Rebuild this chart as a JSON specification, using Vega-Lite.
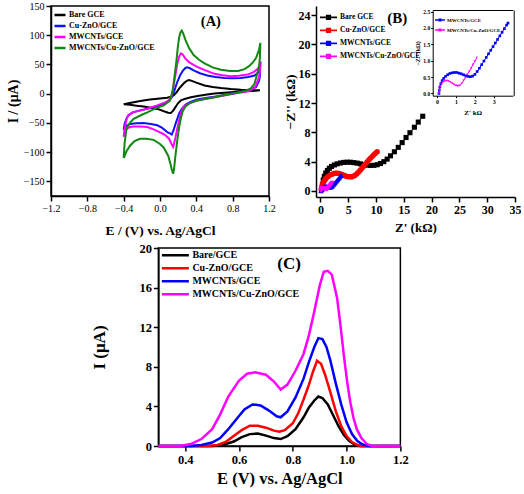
{
  "$schema": "https://vega.github.io/schema/vega-lite/v6.json",
  "padding": {"left": 5, "top": 0, "right": 0, "bottom": 0},
  "config": {
    "font": "Liberation Serif",
    "view": {"stroke": "black", "strokeWidth": 1.5},
    "axis": {"grid": false, "tickCount": 20, "domainColor": "black", "domainWidth": 1.5, "tickColor": "black", "tickWidth": 1.5, "labelColor": "black", "titleColor": "black", "labelFlush": false, "labelOverlap": false, "titleFontWeight": "bold", "labelFont": "Liberation Serif", "titleFont": "Liberation Serif"},
    "legend": {"labelFont": "Liberation Serif", "labelColor": "black", "padding": 0, "rowPadding": 0, "labelFontWeight": "bold"}
  },
  "datasets": {
    "cv": [
      {"s":"Bare GCE","E":-0.4,"I":-18},{"s":"Bare GCE","E":-0.29,"I":-14.5},{"s":"Bare GCE","E":-0.2,"I":-12},{"s":"Bare GCE","E":-0.11,"I":-10},{"s":"Bare GCE","E":0.0,"I":-8.3},{"s":"Bare GCE","E":0.08,"I":-7},{"s":"Bare GCE","E":0.12,"I":-5},{"s":"Bare GCE","E":0.15,"I":-3},{"s":"Bare GCE","E":0.18,"I":2},{"s":"Bare GCE","E":0.21,"I":8.5},{"s":"Bare GCE","E":0.24,"I":14},{"s":"Bare GCE","E":0.27,"I":19},{"s":"Bare GCE","E":0.3,"I":22.5},{"s":"Bare GCE","E":0.32,"I":23.5},{"s":"Bare GCE","E":0.35,"I":22},{"s":"Bare GCE","E":0.4,"I":19},{"s":"Bare GCE","E":0.49,"I":14},{"s":"Bare GCE","E":0.58,"I":11.5},{"s":"Bare GCE","E":0.67,"I":9.6},{"s":"Bare GCE","E":0.78,"I":8},{"s":"Bare GCE","E":0.89,"I":6.9},{"s":"Bare GCE","E":1.0,"I":6.2},{"s":"Bare GCE","E":1.1,"I":5.8},
      {"s":"Bare GCE","E":1.05,"I":5.2},{"s":"Bare GCE","E":0.95,"I":4.3},{"s":"Bare GCE","E":0.85,"I":3.5},{"s":"Bare GCE","E":0.71,"I":1.5},{"s":"Bare GCE","E":0.6,"I":0.2},{"s":"Bare GCE","E":0.52,"I":-1.3},{"s":"Bare GCE","E":0.43,"I":-3.5},{"s":"Bare GCE","E":0.34,"I":-6},{"s":"Bare GCE","E":0.28,"I":-8.5},{"s":"Bare GCE","E":0.23,"I":-11.5},{"s":"Bare GCE","E":0.2,"I":-16},{"s":"Bare GCE","E":0.17,"I":-23},{"s":"Bare GCE","E":0.145,"I":-29},{"s":"Bare GCE","E":0.12,"I":-33},{"s":"Bare GCE","E":0.09,"I":-32.5},{"s":"Bare GCE","E":0.06,"I":-31},{"s":"Bare GCE","E":0.0,"I":-27.5},{"s":"Bare GCE","E":-0.03,"I":-26},{"s":"Bare GCE","E":-0.1,"I":-24},{"s":"Bare GCE","E":-0.18,"I":-22},{"s":"Bare GCE","E":-0.26,"I":-20.5},{"s":"Bare GCE","E":-0.33,"I":-19},{"s":"Bare GCE","E":-0.4,"I":-18},
      {"s":"Cu-ZnO/GCE","E":-0.4,"I":-62},{"s":"Cu-ZnO/GCE","E":-0.39,"I":-52},{"s":"Cu-ZnO/GCE","E":-0.37,"I":-43},{"s":"Cu-ZnO/GCE","E":-0.35,"I":-37},{"s":"Cu-ZnO/GCE","E":-0.3,"I":-32},{"s":"Cu-ZnO/GCE","E":-0.22,"I":-28.5},{"s":"Cu-ZnO/GCE","E":-0.14,"I":-26},{"s":"Cu-ZnO/GCE","E":-0.05,"I":-22},{"s":"Cu-ZnO/GCE","E":0.04,"I":-18},{"s":"Cu-ZnO/GCE","E":0.09,"I":-13},{"s":"Cu-ZnO/GCE","E":0.13,"I":-6},{"s":"Cu-ZnO/GCE","E":0.16,"I":6},{"s":"Cu-ZnO/GCE","E":0.19,"I":20},{"s":"Cu-ZnO/GCE","E":0.22,"I":31},{"s":"Cu-ZnO/GCE","E":0.25,"I":39},{"s":"Cu-ZnO/GCE","E":0.28,"I":44},{"s":"Cu-ZnO/GCE","E":0.3,"I":45},{"s":"Cu-ZnO/GCE","E":0.33,"I":43.5},{"s":"Cu-ZnO/GCE","E":0.37,"I":40},{"s":"Cu-ZnO/GCE","E":0.44,"I":35},{"s":"Cu-ZnO/GCE","E":0.52,"I":31},{"s":"Cu-ZnO/GCE","E":0.61,"I":28.5},{"s":"Cu-ZnO/GCE","E":0.71,"I":27},{"s":"Cu-ZnO/GCE","E":0.8,"I":26.5},{"s":"Cu-ZnO/GCE","E":0.89,"I":27},{"s":"Cu-ZnO/GCE","E":0.97,"I":28.5},{"s":"Cu-ZnO/GCE","E":1.04,"I":31},{"s":"Cu-ZnO/GCE","E":1.08,"I":36},{"s":"Cu-ZnO/GCE","E":1.1,"I":43},
      {"s":"Cu-ZnO/GCE","E":1.1,"I":30},{"s":"Cu-ZnO/GCE","E":1.09,"I":22},{"s":"Cu-ZnO/GCE","E":1.06,"I":12},{"s":"Cu-ZnO/GCE","E":1.0,"I":6.5},{"s":"Cu-ZnO/GCE","E":0.93,"I":4},{"s":"Cu-ZnO/GCE","E":0.85,"I":2},{"s":"Cu-ZnO/GCE","E":0.78,"I":0},{"s":"Cu-ZnO/GCE","E":0.69,"I":-2.5},{"s":"Cu-ZnO/GCE","E":0.6,"I":-5},{"s":"Cu-ZnO/GCE","E":0.5,"I":-7.5},{"s":"Cu-ZnO/GCE","E":0.41,"I":-10},{"s":"Cu-ZnO/GCE","E":0.33,"I":-14.5},{"s":"Cu-ZnO/GCE","E":0.28,"I":-19},{"s":"Cu-ZnO/GCE","E":0.24,"I":-26},{"s":"Cu-ZnO/GCE","E":0.21,"I":-34},{"s":"Cu-ZnO/GCE","E":0.19,"I":-43},{"s":"Cu-ZnO/GCE","E":0.17,"I":-52},{"s":"Cu-ZnO/GCE","E":0.15,"I":-62},{"s":"Cu-ZnO/GCE","E":0.13,"I":-70},{"s":"Cu-ZnO/GCE","E":0.11,"I":-68},{"s":"Cu-ZnO/GCE","E":0.08,"I":-66},{"s":"Cu-ZnO/GCE","E":0.06,"I":-63},{"s":"Cu-ZnO/GCE","E":0.02,"I":-58},{"s":"Cu-ZnO/GCE","E":-0.03,"I":-54},{"s":"Cu-ZnO/GCE","E":-0.1,"I":-52},{"s":"Cu-ZnO/GCE","E":-0.18,"I":-50},{"s":"Cu-ZnO/GCE","E":-0.26,"I":-50.5},{"s":"Cu-ZnO/GCE","E":-0.33,"I":-52},{"s":"Cu-ZnO/GCE","E":-0.37,"I":-55},{"s":"Cu-ZnO/GCE","E":-0.39,"I":-58},{"s":"Cu-ZnO/GCE","E":-0.4,"I":-62},
      {"s":"MWCNTs/GCE","E":-0.4,"I":-74},{"s":"MWCNTs/GCE","E":-0.39,"I":-60},{"s":"MWCNTs/GCE","E":-0.37,"I":-45},{"s":"MWCNTs/GCE","E":-0.35,"I":-37},{"s":"MWCNTs/GCE","E":-0.3,"I":-32},{"s":"MWCNTs/GCE","E":-0.22,"I":-29},{"s":"MWCNTs/GCE","E":-0.12,"I":-24.5},{"s":"MWCNTs/GCE","E":-0.03,"I":-20},{"s":"MWCNTs/GCE","E":0.05,"I":-15.5},{"s":"MWCNTs/GCE","E":0.1,"I":-11},{"s":"MWCNTs/GCE","E":0.13,"I":-2},{"s":"MWCNTs/GCE","E":0.15,"I":14},{"s":"MWCNTs/GCE","E":0.17,"I":32},{"s":"MWCNTs/GCE","E":0.19,"I":51},{"s":"MWCNTs/GCE","E":0.21,"I":63},{"s":"MWCNTs/GCE","E":0.23,"I":69},{"s":"MWCNTs/GCE","E":0.25,"I":67},{"s":"MWCNTs/GCE","E":0.28,"I":60},{"s":"MWCNTs/GCE","E":0.32,"I":54},{"s":"MWCNTs/GCE","E":0.36,"I":50},{"s":"MWCNTs/GCE","E":0.41,"I":46},{"s":"MWCNTs/GCE","E":0.5,"I":40},{"s":"MWCNTs/GCE","E":0.6,"I":34},{"s":"MWCNTs/GCE","E":0.69,"I":31.5},{"s":"MWCNTs/GCE","E":0.78,"I":30},{"s":"MWCNTs/GCE","E":0.87,"I":30.5},{"s":"MWCNTs/GCE","E":0.97,"I":33},{"s":"MWCNTs/GCE","E":1.03,"I":37},{"s":"MWCNTs/GCE","E":1.08,"I":43},{"s":"MWCNTs/GCE","E":1.1,"I":50},{"s":"MWCNTs/GCE","E":1.11,"I":55},
      {"s":"MWCNTs/GCE","E":1.1,"I":38},{"s":"MWCNTs/GCE","E":1.09,"I":28},{"s":"MWCNTs/GCE","E":1.06,"I":16},{"s":"MWCNTs/GCE","E":1.04,"I":10},{"s":"MWCNTs/GCE","E":0.99,"I":5.5},{"s":"MWCNTs/GCE","E":0.93,"I":3},{"s":"MWCNTs/GCE","E":0.85,"I":1},{"s":"MWCNTs/GCE","E":0.78,"I":-1},{"s":"MWCNTs/GCE","E":0.69,"I":-3.5},{"s":"MWCNTs/GCE","E":0.6,"I":-6},{"s":"MWCNTs/GCE","E":0.5,"I":-8.5},{"s":"MWCNTs/GCE","E":0.41,"I":-11.5},{"s":"MWCNTs/GCE","E":0.33,"I":-16},{"s":"MWCNTs/GCE","E":0.26,"I":-22},{"s":"MWCNTs/GCE","E":0.23,"I":-33},{"s":"MWCNTs/GCE","E":0.21,"I":-46},{"s":"MWCNTs/GCE","E":0.19,"I":-60},{"s":"MWCNTs/GCE","E":0.17,"I":-75},{"s":"MWCNTs/GCE","E":0.155,"I":-85},{"s":"MWCNTs/GCE","E":0.145,"I":-91},{"s":"MWCNTs/GCE","E":0.13,"I":-87},{"s":"MWCNTs/GCE","E":0.1,"I":-77},{"s":"MWCNTs/GCE","E":0.05,"I":-70},{"s":"MWCNTs/GCE","E":0.0,"I":-66},{"s":"MWCNTs/GCE","E":-0.07,"I":-61},{"s":"MWCNTs/GCE","E":-0.14,"I":-57},{"s":"MWCNTs/GCE","E":-0.22,"I":-56},{"s":"MWCNTs/GCE","E":-0.29,"I":-56},{"s":"MWCNTs/GCE","E":-0.33,"I":-57},{"s":"MWCNTs/GCE","E":-0.37,"I":-60},{"s":"MWCNTs/GCE","E":-0.39,"I":-66},{"s":"MWCNTs/GCE","E":-0.4,"I":-74},
      {"s":"MWCNTs/Cu-ZnO/GCE","E":-0.4,"I":-110},{"s":"MWCNTs/Cu-ZnO/GCE","E":-0.39,"I":-85},{"s":"MWCNTs/Cu-ZnO/GCE","E":-0.37,"I":-62},{"s":"MWCNTs/Cu-ZnO/GCE","E":-0.35,"I":-54},{"s":"MWCNTs/Cu-ZnO/GCE","E":-0.32,"I":-48},{"s":"MWCNTs/Cu-ZnO/GCE","E":-0.29,"I":-43},{"s":"MWCNTs/Cu-ZnO/GCE","E":-0.2,"I":-36},{"s":"MWCNTs/Cu-ZnO/GCE","E":-0.14,"I":-32},{"s":"MWCNTs/Cu-ZnO/GCE","E":-0.05,"I":-25},{"s":"MWCNTs/Cu-ZnO/GCE","E":0.04,"I":-20},{"s":"MWCNTs/Cu-ZnO/GCE","E":0.11,"I":-12},{"s":"MWCNTs/Cu-ZnO/GCE","E":0.14,"I":5},{"s":"MWCNTs/Cu-ZnO/GCE","E":0.16,"I":30},{"s":"MWCNTs/Cu-ZnO/GCE","E":0.18,"I":55},{"s":"MWCNTs/Cu-ZnO/GCE","E":0.195,"I":78},{"s":"MWCNTs/Cu-ZnO/GCE","E":0.21,"I":96},{"s":"MWCNTs/Cu-ZnO/GCE","E":0.225,"I":105},{"s":"MWCNTs/Cu-ZnO/GCE","E":0.24,"I":108},{"s":"MWCNTs/Cu-ZnO/GCE","E":0.255,"I":103},{"s":"MWCNTs/Cu-ZnO/GCE","E":0.28,"I":92},{"s":"MWCNTs/Cu-ZnO/GCE","E":0.32,"I":78},{"s":"MWCNTs/Cu-ZnO/GCE","E":0.37,"I":66},{"s":"MWCNTs/Cu-ZnO/GCE","E":0.43,"I":58},{"s":"MWCNTs/Cu-ZnO/GCE","E":0.49,"I":52},{"s":"MWCNTs/Cu-ZnO/GCE","E":0.58,"I":45},{"s":"MWCNTs/Cu-ZnO/GCE","E":0.67,"I":41},{"s":"MWCNTs/Cu-ZnO/GCE","E":0.77,"I":39},{"s":"MWCNTs/Cu-ZnO/GCE","E":0.86,"I":39},{"s":"MWCNTs/Cu-ZnO/GCE","E":0.93,"I":42},{"s":"MWCNTs/Cu-ZnO/GCE","E":0.98,"I":47},{"s":"MWCNTs/Cu-ZnO/GCE","E":1.02,"I":53},{"s":"MWCNTs/Cu-ZnO/GCE","E":1.06,"I":62},{"s":"MWCNTs/Cu-ZnO/GCE","E":1.09,"I":75},{"s":"MWCNTs/Cu-ZnO/GCE","E":1.105,"I":87},
      {"s":"MWCNTs/Cu-ZnO/GCE","E":1.1,"I":62},{"s":"MWCNTs/Cu-ZnO/GCE","E":1.09,"I":46},{"s":"MWCNTs/Cu-ZnO/GCE","E":1.06,"I":28},{"s":"MWCNTs/Cu-ZnO/GCE","E":1.04,"I":17},{"s":"MWCNTs/Cu-ZnO/GCE","E":1.0,"I":9},{"s":"MWCNTs/Cu-ZnO/GCE","E":0.93,"I":4.5},{"s":"MWCNTs/Cu-ZnO/GCE","E":0.85,"I":1.5},{"s":"MWCNTs/Cu-ZnO/GCE","E":0.78,"I":0},{"s":"MWCNTs/Cu-ZnO/GCE","E":0.69,"I":-3},{"s":"MWCNTs/Cu-ZnO/GCE","E":0.6,"I":-6},{"s":"MWCNTs/Cu-ZnO/GCE","E":0.5,"I":-9},{"s":"MWCNTs/Cu-ZnO/GCE","E":0.41,"I":-11.5},{"s":"MWCNTs/Cu-ZnO/GCE","E":0.33,"I":-16},{"s":"MWCNTs/Cu-ZnO/GCE","E":0.28,"I":-22},{"s":"MWCNTs/Cu-ZnO/GCE","E":0.25,"I":-30},{"s":"MWCNTs/Cu-ZnO/GCE","E":0.23,"I":-42},{"s":"MWCNTs/Cu-ZnO/GCE","E":0.21,"I":-58},{"s":"MWCNTs/Cu-ZnO/GCE","E":0.19,"I":-80},{"s":"MWCNTs/Cu-ZnO/GCE","E":0.17,"I":-106},{"s":"MWCNTs/Cu-ZnO/GCE","E":0.155,"I":-128},{"s":"MWCNTs/Cu-ZnO/GCE","E":0.145,"I":-137},{"s":"MWCNTs/Cu-ZnO/GCE","E":0.13,"I":-130},{"s":"MWCNTs/Cu-ZnO/GCE","E":0.115,"I":-120},{"s":"MWCNTs/Cu-ZnO/GCE","E":0.09,"I":-106},{"s":"MWCNTs/Cu-ZnO/GCE","E":0.04,"I":-92},{"s":"MWCNTs/Cu-ZnO/GCE","E":0.0,"I":-86},{"s":"MWCNTs/Cu-ZnO/GCE","E":-0.07,"I":-79},{"s":"MWCNTs/Cu-ZnO/GCE","E":-0.15,"I":-77},{"s":"MWCNTs/Cu-ZnO/GCE","E":-0.22,"I":-77},{"s":"MWCNTs/Cu-ZnO/GCE","E":-0.28,"I":-81},{"s":"MWCNTs/Cu-ZnO/GCE","E":-0.33,"I":-89},{"s":"MWCNTs/Cu-ZnO/GCE","E":-0.37,"I":-99},{"s":"MWCNTs/Cu-ZnO/GCE","E":-0.4,"I":-110}
    ],
    "eis": [
      {"s":"Bare GCE","Z":0.25,"Zi":0.2},{"s":"Bare GCE","Z":0.35,"Zi":0.9},{"s":"Bare GCE","Z":0.5,"Zi":1.5},{"s":"Bare GCE","Z":0.7,"Zi":2.0},{"s":"Bare GCE","Z":0.95,"Zi":2.45},{"s":"Bare GCE","Z":1.25,"Zi":2.8},{"s":"Bare GCE","Z":1.6,"Zi":3.1},{"s":"Bare GCE","Z":2.0,"Zi":3.35},{"s":"Bare GCE","Z":2.5,"Zi":3.55},{"s":"Bare GCE","Z":3.0,"Zi":3.7},{"s":"Bare GCE","Z":3.6,"Zi":3.82},{"s":"Bare GCE","Z":4.2,"Zi":3.9},{"s":"Bare GCE","Z":4.8,"Zi":3.93},{"s":"Bare GCE","Z":5.4,"Zi":3.92},{"s":"Bare GCE","Z":6.0,"Zi":3.87},{"s":"Bare GCE","Z":6.6,"Zi":3.8},{"s":"Bare GCE","Z":7.2,"Zi":3.7},{"s":"Bare GCE","Z":7.8,"Zi":3.6},{"s":"Bare GCE","Z":8.4,"Zi":3.52},{"s":"Bare GCE","Z":9.0,"Zi":3.48},{"s":"Bare GCE","Z":9.6,"Zi":3.5},{"s":"Bare GCE","Z":10.2,"Zi":3.58},{"s":"Bare GCE","Z":10.8,"Zi":3.75},{"s":"Bare GCE","Z":11.4,"Zi":4.0},{"s":"Bare GCE","Z":12.0,"Zi":4.35},{"s":"Bare GCE","Z":12.6,"Zi":4.8},{"s":"Bare GCE","Z":13.3,"Zi":5.35},{"s":"Bare GCE","Z":14.0,"Zi":5.95},{"s":"Bare GCE","Z":14.7,"Zi":6.6},{"s":"Bare GCE","Z":15.4,"Zi":7.3},{"s":"Bare GCE","Z":16.1,"Zi":7.95},{"s":"Bare GCE","Z":16.9,"Zi":8.7},{"s":"Bare GCE","Z":17.6,"Zi":9.4},{"s":"Bare GCE","Z":18.4,"Zi":10.2},
      {"s":"Cu-ZnO/GCE","Z":0.15,"Zi":0.2},{"s":"Cu-ZnO/GCE","Z":0.25,"Zi":0.6},{"s":"Cu-ZnO/GCE","Z":0.4,"Zi":0.95},{"s":"Cu-ZnO/GCE","Z":0.6,"Zi":1.25},{"s":"Cu-ZnO/GCE","Z":0.8,"Zi":1.5},{"s":"Cu-ZnO/GCE","Z":1.0,"Zi":1.7},{"s":"Cu-ZnO/GCE","Z":1.25,"Zi":1.9},{"s":"Cu-ZnO/GCE","Z":1.5,"Zi":2.05},{"s":"Cu-ZnO/GCE","Z":1.8,"Zi":2.2},{"s":"Cu-ZnO/GCE","Z":2.1,"Zi":2.3},{"s":"Cu-ZnO/GCE","Z":2.4,"Zi":2.38},{"s":"Cu-ZnO/GCE","Z":2.7,"Zi":2.42},{"s":"Cu-ZnO/GCE","Z":3.0,"Zi":2.43},{"s":"Cu-ZnO/GCE","Z":3.3,"Zi":2.4},{"s":"Cu-ZnO/GCE","Z":3.6,"Zi":2.33},{"s":"Cu-ZnO/GCE","Z":3.9,"Zi":2.25},{"s":"Cu-ZnO/GCE","Z":4.2,"Zi":2.15},{"s":"Cu-ZnO/GCE","Z":4.5,"Zi":2.06},{"s":"Cu-ZnO/GCE","Z":4.8,"Zi":1.99},{"s":"Cu-ZnO/GCE","Z":5.1,"Zi":1.95},{"s":"Cu-ZnO/GCE","Z":5.4,"Zi":1.93},{"s":"Cu-ZnO/GCE","Z":5.7,"Zi":1.95},{"s":"Cu-ZnO/GCE","Z":6.0,"Zi":2.03},{"s":"Cu-ZnO/GCE","Z":6.3,"Zi":2.17},{"s":"Cu-ZnO/GCE","Z":6.6,"Zi":2.38},{"s":"Cu-ZnO/GCE","Z":6.9,"Zi":2.62},{"s":"Cu-ZnO/GCE","Z":7.2,"Zi":2.88},{"s":"Cu-ZnO/GCE","Z":7.5,"Zi":3.15},{"s":"Cu-ZnO/GCE","Z":7.8,"Zi":3.42},{"s":"Cu-ZnO/GCE","Z":8.1,"Zi":3.7},{"s":"Cu-ZnO/GCE","Z":8.4,"Zi":3.97},{"s":"Cu-ZnO/GCE","Z":8.7,"Zi":4.23},{"s":"Cu-ZnO/GCE","Z":9.0,"Zi":4.48},{"s":"Cu-ZnO/GCE","Z":9.3,"Zi":4.72},{"s":"Cu-ZnO/GCE","Z":9.6,"Zi":4.95},{"s":"Cu-ZnO/GCE","Z":9.9,"Zi":5.15},{"s":"Cu-ZnO/GCE","Z":10.2,"Zi":5.35},
      {"s":"MWCNTs/GCE","Z":0.1,"Zi":0.0},{"s":"MWCNTs/GCE","Z":0.12,"Zi":0.1},{"s":"MWCNTs/GCE","Z":0.15,"Zi":0.2},{"s":"MWCNTs/GCE","Z":0.2,"Zi":0.3},{"s":"MWCNTs/GCE","Z":0.27,"Zi":0.39},{"s":"MWCNTs/GCE","Z":0.35,"Zi":0.46},{"s":"MWCNTs/GCE","Z":0.45,"Zi":0.52},{"s":"MWCNTs/GCE","Z":0.56,"Zi":0.57},{"s":"MWCNTs/GCE","Z":0.68,"Zi":0.61},{"s":"MWCNTs/GCE","Z":0.8,"Zi":0.63},{"s":"MWCNTs/GCE","Z":0.92,"Zi":0.64},{"s":"MWCNTs/GCE","Z":1.04,"Zi":0.64},{"s":"MWCNTs/GCE","Z":1.16,"Zi":0.62},{"s":"MWCNTs/GCE","Z":1.28,"Zi":0.6},{"s":"MWCNTs/GCE","Z":1.4,"Zi":0.57},{"s":"MWCNTs/GCE","Z":1.52,"Zi":0.54},{"s":"MWCNTs/GCE","Z":1.64,"Zi":0.52},{"s":"MWCNTs/GCE","Z":1.76,"Zi":0.51},{"s":"MWCNTs/GCE","Z":1.88,"Zi":0.53},{"s":"MWCNTs/GCE","Z":2.0,"Zi":0.58},{"s":"MWCNTs/GCE","Z":2.12,"Zi":0.67},{"s":"MWCNTs/GCE","Z":2.24,"Zi":0.77},{"s":"MWCNTs/GCE","Z":2.36,"Zi":0.88},{"s":"MWCNTs/GCE","Z":2.48,"Zi":0.99},{"s":"MWCNTs/GCE","Z":2.6,"Zi":1.1},{"s":"MWCNTs/GCE","Z":2.72,"Zi":1.21},{"s":"MWCNTs/GCE","Z":2.84,"Zi":1.32},{"s":"MWCNTs/GCE","Z":2.96,"Zi":1.43},{"s":"MWCNTs/GCE","Z":3.08,"Zi":1.54},{"s":"MWCNTs/GCE","Z":3.2,"Zi":1.65},{"s":"MWCNTs/GCE","Z":3.32,"Zi":1.76},{"s":"MWCNTs/GCE","Z":3.44,"Zi":1.87},{"s":"MWCNTs/GCE","Z":3.56,"Zi":1.98},{"s":"MWCNTs/GCE","Z":3.68,"Zi":2.09},{"s":"MWCNTs/GCE","Z":3.75,"Zi":2.15},
      {"s":"MWCNTs/Cu-ZnO/GCE","Z":0.1,"Zi":0.0},{"s":"MWCNTs/Cu-ZnO/GCE","Z":0.12,"Zi":0.1},{"s":"MWCNTs/Cu-ZnO/GCE","Z":0.16,"Zi":0.2},{"s":"MWCNTs/Cu-ZnO/GCE","Z":0.22,"Zi":0.28},{"s":"MWCNTs/Cu-ZnO/GCE","Z":0.3,"Zi":0.34},{"s":"MWCNTs/Cu-ZnO/GCE","Z":0.4,"Zi":0.38},{"s":"MWCNTs/Cu-ZnO/GCE","Z":0.5,"Zi":0.39},{"s":"MWCNTs/Cu-ZnO/GCE","Z":0.6,"Zi":0.38},{"s":"MWCNTs/Cu-ZnO/GCE","Z":0.7,"Zi":0.35},{"s":"MWCNTs/Cu-ZnO/GCE","Z":0.8,"Zi":0.31},{"s":"MWCNTs/Cu-ZnO/GCE","Z":0.9,"Zi":0.27},{"s":"MWCNTs/Cu-ZnO/GCE","Z":1.0,"Zi":0.24},{"s":"MWCNTs/Cu-ZnO/GCE","Z":1.1,"Zi":0.23},{"s":"MWCNTs/Cu-ZnO/GCE","Z":1.2,"Zi":0.24},{"s":"MWCNTs/Cu-ZnO/GCE","Z":1.3,"Zi":0.3},{"s":"MWCNTs/Cu-ZnO/GCE","Z":1.4,"Zi":0.39},{"s":"MWCNTs/Cu-ZnO/GCE","Z":1.5,"Zi":0.48},{"s":"MWCNTs/Cu-ZnO/GCE","Z":1.6,"Zi":0.58},{"s":"MWCNTs/Cu-ZnO/GCE","Z":1.7,"Zi":0.67},{"s":"MWCNTs/Cu-ZnO/GCE","Z":1.8,"Zi":0.77},{"s":"MWCNTs/Cu-ZnO/GCE","Z":1.9,"Zi":0.88},{"s":"MWCNTs/Cu-ZnO/GCE","Z":2.0,"Zi":0.98},{"s":"MWCNTs/Cu-ZnO/GCE","Z":2.1,"Zi":1.09}
    ],
    "dpv": [
      {"s":"Bare/GCE","E":0.3,"I":0},{"s":"Bare/GCE","E":0.5,"I":0},{"s":"Bare/GCE","E":0.54,"I":0.1},{"s":"Bare/GCE","E":0.58,"I":0.45},{"s":"Bare/GCE","E":0.61,"I":0.9},{"s":"Bare/GCE","E":0.64,"I":1.2},{"s":"Bare/GCE","E":0.67,"I":1.25},{"s":"Bare/GCE","E":0.7,"I":1.05},{"s":"Bare/GCE","E":0.73,"I":0.8},{"s":"Bare/GCE","E":0.755,"I":0.7},{"s":"Bare/GCE","E":0.78,"I":1.0},{"s":"Bare/GCE","E":0.81,"I":1.7},{"s":"Bare/GCE","E":0.84,"I":2.9},{"s":"Bare/GCE","E":0.86,"I":3.9},{"s":"Bare/GCE","E":0.88,"I":4.6},{"s":"Bare/GCE","E":0.895,"I":5.0},{"s":"Bare/GCE","E":0.91,"I":4.85},{"s":"Bare/GCE","E":0.93,"I":4.2},{"s":"Bare/GCE","E":0.95,"I":3.1},{"s":"Bare/GCE","E":0.97,"I":2.0},{"s":"Bare/GCE","E":0.99,"I":1.1},{"s":"Bare/GCE","E":1.01,"I":0.5},{"s":"Bare/GCE","E":1.03,"I":0.15},{"s":"Bare/GCE","E":1.05,"I":0},{"s":"Bare/GCE","E":1.2,"I":0},
      {"s":"Cu-ZnO/GCE","E":0.3,"I":0},{"s":"Cu-ZnO/GCE","E":0.48,"I":0},{"s":"Cu-ZnO/GCE","E":0.52,"I":0.1},{"s":"Cu-ZnO/GCE","E":0.55,"I":0.4},{"s":"Cu-ZnO/GCE","E":0.58,"I":1.0},{"s":"Cu-ZnO/GCE","E":0.61,"I":1.6},{"s":"Cu-ZnO/GCE","E":0.64,"I":2.05},{"s":"Cu-ZnO/GCE","E":0.67,"I":2.05},{"s":"Cu-ZnO/GCE","E":0.7,"I":1.85},{"s":"Cu-ZnO/GCE","E":0.73,"I":1.55},{"s":"Cu-ZnO/GCE","E":0.75,"I":1.45},{"s":"Cu-ZnO/GCE","E":0.77,"I":1.6},{"s":"Cu-ZnO/GCE","E":0.8,"I":2.3},{"s":"Cu-ZnO/GCE","E":0.82,"I":3.3},{"s":"Cu-ZnO/GCE","E":0.84,"I":4.7},{"s":"Cu-ZnO/GCE","E":0.86,"I":6.2},{"s":"Cu-ZnO/GCE","E":0.875,"I":7.5},{"s":"Cu-ZnO/GCE","E":0.89,"I":8.6},{"s":"Cu-ZnO/GCE","E":0.905,"I":8.3},{"s":"Cu-ZnO/GCE","E":0.92,"I":7.2},{"s":"Cu-ZnO/GCE","E":0.94,"I":5.4},{"s":"Cu-ZnO/GCE","E":0.96,"I":3.5},{"s":"Cu-ZnO/GCE","E":0.98,"I":2.0},{"s":"Cu-ZnO/GCE","E":1.0,"I":1.0},{"s":"Cu-ZnO/GCE","E":1.02,"I":0.4},{"s":"Cu-ZnO/GCE","E":1.04,"I":0.1},{"s":"Cu-ZnO/GCE","E":1.055,"I":0},{"s":"Cu-ZnO/GCE","E":1.2,"I":0},
      {"s":"MWCNTs/GCE","E":0.3,"I":0},{"s":"MWCNTs/GCE","E":0.42,"I":0},{"s":"MWCNTs/GCE","E":0.46,"I":0.1},{"s":"MWCNTs/GCE","E":0.5,"I":0.35},{"s":"MWCNTs/GCE","E":0.53,"I":0.8},{"s":"MWCNTs/GCE","E":0.56,"I":1.7},{"s":"MWCNTs/GCE","E":0.59,"I":2.7},{"s":"MWCNTs/GCE","E":0.62,"I":3.7},{"s":"MWCNTs/GCE","E":0.65,"I":4.2},{"s":"MWCNTs/GCE","E":0.68,"I":4.1},{"s":"MWCNTs/GCE","E":0.71,"I":3.6},{"s":"MWCNTs/GCE","E":0.74,"I":3.0},{"s":"MWCNTs/GCE","E":0.755,"I":2.9},{"s":"MWCNTs/GCE","E":0.78,"I":3.5},{"s":"MWCNTs/GCE","E":0.81,"I":4.9},{"s":"MWCNTs/GCE","E":0.84,"I":6.8},{"s":"MWCNTs/GCE","E":0.86,"I":8.5},{"s":"MWCNTs/GCE","E":0.88,"I":10.0},{"s":"MWCNTs/GCE","E":0.895,"I":10.9},{"s":"MWCNTs/GCE","E":0.91,"I":10.8},{"s":"MWCNTs/GCE","E":0.925,"I":10.0},{"s":"MWCNTs/GCE","E":0.94,"I":8.6},{"s":"MWCNTs/GCE","E":0.96,"I":6.3},{"s":"MWCNTs/GCE","E":0.98,"I":4.2},{"s":"MWCNTs/GCE","E":1.0,"I":2.4},{"s":"MWCNTs/GCE","E":1.02,"I":1.2},{"s":"MWCNTs/GCE","E":1.04,"I":0.5},{"s":"MWCNTs/GCE","E":1.06,"I":0.15},{"s":"MWCNTs/GCE","E":1.08,"I":0},{"s":"MWCNTs/GCE","E":1.2,"I":0},
      {"s":"MWCNTs/Cu-ZnO/GCE","E":0.3,"I":0},{"s":"MWCNTs/Cu-ZnO/GCE","E":0.38,"I":0},{"s":"MWCNTs/Cu-ZnO/GCE","E":0.42,"I":0.2},{"s":"MWCNTs/Cu-ZnO/GCE","E":0.46,"I":0.7},{"s":"MWCNTs/Cu-ZnO/GCE","E":0.5,"I":1.7},{"s":"MWCNTs/Cu-ZnO/GCE","E":0.53,"I":3.2},{"s":"MWCNTs/Cu-ZnO/GCE","E":0.56,"I":5.0},{"s":"MWCNTs/Cu-ZnO/GCE","E":0.6,"I":6.6},{"s":"MWCNTs/Cu-ZnO/GCE","E":0.63,"I":7.3},{"s":"MWCNTs/Cu-ZnO/GCE","E":0.66,"I":7.45},{"s":"MWCNTs/Cu-ZnO/GCE","E":0.7,"I":7.2},{"s":"MWCNTs/Cu-ZnO/GCE","E":0.73,"I":6.5},{"s":"MWCNTs/Cu-ZnO/GCE","E":0.755,"I":5.7},{"s":"MWCNTs/Cu-ZnO/GCE","E":0.78,"I":6.2},{"s":"MWCNTs/Cu-ZnO/GCE","E":0.81,"I":7.6},{"s":"MWCNTs/Cu-ZnO/GCE","E":0.84,"I":9.3},{"s":"MWCNTs/Cu-ZnO/GCE","E":0.86,"I":11.2},{"s":"MWCNTs/Cu-ZnO/GCE","E":0.88,"I":13.6},{"s":"MWCNTs/Cu-ZnO/GCE","E":0.9,"I":16.2},{"s":"MWCNTs/Cu-ZnO/GCE","E":0.915,"I":17.6},{"s":"MWCNTs/Cu-ZnO/GCE","E":0.93,"I":17.7},{"s":"MWCNTs/Cu-ZnO/GCE","E":0.945,"I":17.3},{"s":"MWCNTs/Cu-ZnO/GCE","E":0.965,"I":14.9},{"s":"MWCNTs/Cu-ZnO/GCE","E":0.978,"I":12.0},{"s":"MWCNTs/Cu-ZnO/GCE","E":0.99,"I":9.1},{"s":"MWCNTs/Cu-ZnO/GCE","E":1.002,"I":6.5},{"s":"MWCNTs/Cu-ZnO/GCE","E":1.014,"I":4.4},{"s":"MWCNTs/Cu-ZnO/GCE","E":1.026,"I":2.8},{"s":"MWCNTs/Cu-ZnO/GCE","E":1.038,"I":1.7},{"s":"MWCNTs/Cu-ZnO/GCE","E":1.055,"I":0.8},{"s":"MWCNTs/Cu-ZnO/GCE","E":1.075,"I":0.2},{"s":"MWCNTs/Cu-ZnO/GCE","E":1.095,"I":0},{"s":"MWCNTs/Cu-ZnO/GCE","E":1.2,"I":0}
    ]
  },
  "vconcat": [
    {
      "hconcat": [
        {
          "width": 218, "height": 190,
          "layer": [
            {
              "data": {"name": "cv"},
              "mark": {"type": "line", "strokeWidth": 2},
              "encoding": {
                "x": {"field": "E", "type": "quantitative", "scale": {"domain": [-1.2, 1.2], "nice": false, "zero": false},
                      "axis": {"title": "E / (V) vs. Ag/AgCl", "values": [-1.2, -0.8, -0.4, 0, 0.4, 0.8, 1.2], "tickCount": 20, "format": ".1f", "labelOverlap": false, "tickSize": 5, "labelPadding": 2, "labelFontSize": 10, "titleFontSize": 13.5, "titlePadding": 10}},
                "y": {"field": "I", "type": "quantitative", "scale": {"domain": [-175, 150], "nice": false, "zero": false},
                      "axis": {"title": "I / (μA)", "values": [-150, -100, -50, 0, 50, 100, 150], "tickCount": 20, "labelOverlap": false, "tickSize": 5, "labelPadding": 2, "labelFontSize": 10, "titleFontSize": 14, "titlePadding": 3}},
                "color": {"field": "s", "type": "nominal",
                          "scale": {"domain": ["Bare GCE", "Cu-ZnO/GCE", "MWCNTs/GCE", "MWCNTs/Cu-ZnO/GCE"], "range": ["black", "#1010ff", "#ff00ff", "#118811"]},
                          "legend": {"title": null, "orient": "none", "legendX": 2, "legendY": 3.5, "symbolType": "stroke", "symbolSize": 121, "symbolStrokeWidth": 2.5, "labelFontSize": 8, "labelOffset": 2, "clipHeight": 11}},
                "order": {"value": null}
              }
            },
            {
              "data": {"values": [{}]},
              "mark": {"type": "text", "fontSize": 14.5, "fontWeight": "bold", "color": "black"},
              "encoding": {"x": {"datum": 0.56}, "y": {"datum": 123}, "text": {"value": "(A)"}}
            }
          ]
        },
        {
          "width": 199, "height": 191,
          "view": {"stroke": null},
          "layer": [
            {
              "data": {"name": "eis"},
              "layer": [
                {
                  "mark": {"type": "line", "strokeWidth": 1},
                  "encoding": {
                    "x": {"field": "Z", "type": "quantitative", "scale": {"domain": [-0.8, 35], "nice": false, "zero": false},
                          "axis": {"orient": "bottom", "title": "Z' (kΩ)", "values": [0, 5, 10, 15, 20, 25, 30, 35], "tickCount": 20, "labelOverlap": false, "tickSize": 5, "labelPadding": 2, "labelFontSize": 12, "labelFontWeight": "bold", "titleFontSize": 13, "titlePadding": 6}},
                    "y": {"field": "Zi", "type": "quantitative", "scale": {"domain": [-0.82, 25.24], "nice": false, "zero": false},
                          "axis": {"orient": "left", "title": "−Z'' (kΩ)", "values": [0, 4, 8, 12, 16, 20, 24], "tickCount": 20, "labelOverlap": false, "tickSize": 5, "labelPadding": 1, "labelFontSize": 12, "labelFontWeight": "bold", "titleFontSize": 13.5, "titlePadding": 1}},
                    "color": {"field": "s", "type": "nominal", "legend": null,
                              "scale": {"domain": ["Bare GCE", "Cu-ZnO/GCE", "MWCNTs/GCE", "MWCNTs/Cu-ZnO/GCE"], "range": ["black", "red", "blue", "#ff00ff"]}}
                  }
                },
                {
                  "mark": {"type": "point", "filled": false, "opacity": 0, "size": 20, "strokeWidth": 1.6},
                  "encoding": {
                    "x": {"field": "Z", "type": "quantitative"},
                    "y": {"field": "Zi", "type": "quantitative"},
                    "color": {"field": "s", "type": "nominal",
                              "scale": {"domain": ["Bare GCE", "Cu-ZnO/GCE", "MWCNTs/GCE", "MWCNTs/Cu-ZnO/GCE"], "range": ["black", "red", "blue", "#ff00ff"]},
                              "legend": {"title": null, "orient": "none", "legendX": 3, "legendY": 5, "symbolType": "M-1,0H1M-0.2,-0.2H0.2V0.2H-0.2Z", "symbolSize": 289, "symbolOpacity": 1, "symbolStrokeWidth": 1.8, "labelFontSize": 7.5, "labelOffset": 2, "clipHeight": 12.7}}
                  }
                },
                {
                  "transform": [{"filter": "datum.s === 'Bare GCE'"}],
                  "mark": {"type": "point", "shape": "square", "filled": true, "opacity": 1, "size": 26},
                  "encoding": {"x": {"field": "Z", "type": "quantitative"}, "y": {"field": "Zi", "type": "quantitative"},
                               "color": {"field": "s", "type": "nominal", "legend": null, "scale": {"domain": ["Bare GCE", "Cu-ZnO/GCE", "MWCNTs/GCE", "MWCNTs/Cu-ZnO/GCE"], "range": ["black", "red", "blue", "#ff00ff"]}}}
                },
                {
                  "transform": [{"filter": "datum.s === 'Cu-ZnO/GCE'"}],
                  "mark": {"type": "point", "shape": "circle", "filled": true, "opacity": 1, "size": 30},
                  "encoding": {"x": {"field": "Z", "type": "quantitative"}, "y": {"field": "Zi", "type": "quantitative"},
                               "color": {"field": "s", "type": "nominal", "legend": null, "scale": {"domain": ["Bare GCE", "Cu-ZnO/GCE", "MWCNTs/GCE", "MWCNTs/Cu-ZnO/GCE"], "range": ["black", "red", "blue", "#ff00ff"]}}}
                },
                {
                  "transform": [{"filter": "datum.s === 'MWCNTs/GCE'"}],
                  "mark": {"type": "point", "shape": "triangle-up", "filled": true, "opacity": 1, "size": 26},
                  "encoding": {"x": {"field": "Z", "type": "quantitative"}, "y": {"field": "Zi", "type": "quantitative"},
                               "color": {"field": "s", "type": "nominal", "legend": null, "scale": {"domain": ["Bare GCE", "Cu-ZnO/GCE", "MWCNTs/GCE", "MWCNTs/Cu-ZnO/GCE"], "range": ["black", "red", "blue", "#ff00ff"]}}}
                },
                {
                  "transform": [{"filter": "datum.s === 'MWCNTs/Cu-ZnO/GCE'"}],
                  "mark": {"type": "point", "shape": "triangle-down", "filled": true, "opacity": 1, "size": 26},
                  "encoding": {"x": {"field": "Z", "type": "quantitative"}, "y": {"field": "Zi", "type": "quantitative"},
                               "color": {"field": "s", "type": "nominal", "legend": null, "scale": {"domain": ["Bare GCE", "Cu-ZnO/GCE", "MWCNTs/GCE", "MWCNTs/Cu-ZnO/GCE"], "range": ["black", "red", "blue", "#ff00ff"]}}}
                },
                {
                  "data": {"values": [{}]},
                  "mark": {"type": "text", "fontSize": 15, "fontWeight": "bold", "color": "black"},
                  "encoding": {"x": {"datum": 13.8}, "y": {"datum": 23.6}, "text": {"value": "(B)"}}
                }
              ],
              "resolve": {"scale": {"color": "independent"}, "legend": {"color": "independent"}}
            },
            {
              "data": {"name": "eis"},
              "transform": [{"filter": "datum.s === 'MWCNTs/GCE' || datum.s === 'MWCNTs/Cu-ZnO/GCE'"}],
              "layer": [
                {
                  "mark": {"type": "line", "strokeWidth": 1},
                  "encoding": {
                    "x": {"field": "Z", "type": "quantitative", "scale": {"domain": [-0.23, 4.0], "range": [116.7, 196.7], "nice": false, "zero": false},
                          "axis": {"orient": "bottom", "offset": -101.3, "title": "Z' kΩ", "values": [0, 1, 2, 3], "tickCount": 20, "format": "d", "labelOverlap": false, "tickSize": 2, "tickWidth": 1, "domainWidth": 1, "labelPadding": 1, "labelFontSize": 6, "labelFontWeight": "bold", "titleFontSize": 7, "titlePadding": 4}},
                    "y": {"field": "Zi", "type": "quantitative", "scale": {"domain": [-0.07, 2.55], "range": [89.7, 4], "nice": false, "zero": false},
                          "axis": {"orient": "left", "offset": -116.7, "title": "−Z'' (kΩ)", "values": [0, 0.5, 1, 1.5, 2, 2.5], "tickCount": 20, "format": ".1f", "labelOverlap": false, "tickSize": 2, "tickWidth": 1, "domainWidth": 1, "labelPadding": 1, "labelFontSize": 5.5, "labelFontWeight": "bold", "titleFontSize": 6, "titlePadding": 2}},
                    "color": {"field": "s", "type": "nominal", "legend": null,
                              "scale": {"domain": ["MWCNTs/GCE", "MWCNTs/Cu-ZnO/GCE"], "range": ["blue", "#ff00ff"]}}
                  }
                },
                {
                  "mark": {"type": "point", "filled": false, "opacity": 0, "size": 5, "strokeWidth": 1.2},
                  "encoding": {
                    "x": {"field": "Z", "type": "quantitative", "axis": null},
                    "y": {"field": "Zi", "type": "quantitative", "axis": null},
                    "color": {"field": "s", "type": "nominal",
                              "scale": {"domain": ["MWCNTs/GCE", "MWCNTs/Cu-ZnO/GCE"], "range": ["blue", "#ff00ff"]},
                              "legend": {"title": null, "orient": "none", "legendX": 118, "legendY": 9, "symbolType": "M-1,0H1M-0.18,-0.18H0.18V0.18H-0.18Z", "symbolSize": 100, "symbolOpacity": 1, "symbolStrokeWidth": 1.3, "labelFontSize": 5, "labelOffset": 1, "clipHeight": 10}}
                  }
                },
                {
                  "transform": [{"filter": "datum.s === 'MWCNTs/GCE'"}],
                  "mark": {"type": "point", "shape": "square", "filled": true, "opacity": 1, "size": 7},
                  "encoding": {
                    "x": {"field": "Z", "type": "quantitative",
                          "axis": {"orient": "top", "offset": -4, "title": null, "labels": false, "ticks": false, "domainWidth": 1}},
                    "y": {"field": "Zi", "type": "quantitative",
                          "axis": {"orient": "right", "offset": -1.3, "title": null, "labels": false, "ticks": false, "domainWidth": 1}},
                    "color": {"field": "s", "type": "nominal", "legend": null, "scale": {"domain": ["MWCNTs/GCE", "MWCNTs/Cu-ZnO/GCE"], "range": ["blue", "#ff00ff"]}}
                  }
                },
                {
                  "transform": [{"filter": "datum.s === 'MWCNTs/Cu-ZnO/GCE'"}],
                  "mark": {"type": "point", "shape": "triangle-down", "filled": true, "opacity": 1, "size": 6},
                  "encoding": {
                    "x": {"field": "Z", "type": "quantitative", "axis": null},
                    "y": {"field": "Zi", "type": "quantitative", "axis": null},
                    "color": {"field": "s", "type": "nominal", "legend": null, "scale": {"domain": ["MWCNTs/GCE", "MWCNTs/Cu-ZnO/GCE"], "range": ["blue", "#ff00ff"]}}
                  }
                }
              ],
              "resolve": {"axis": {"x": "independent", "y": "independent"}, "scale": {"color": "independent"}, "legend": {"color": "independent"}}
            }
          ],
          "resolve": {"scale": {"x": "independent", "y": "independent", "color": "independent"}, "legend": {"color": "independent"}}
        }
      ],
      "spacing": 7,
      "resolve": {"scale": {"color": "independent"}, "legend": {"color": "independent"}}
    },
    {
      "width": 242, "height": 198,
      "layer": [
        {
          "data": {"name": "dpv"},
          "mark": {"type": "line", "strokeWidth": 2.5},
          "encoding": {
            "x": {"field": "E", "type": "quantitative", "scale": {"domain": [0.3, 1.2], "nice": false, "zero": false},
                  "axis": {"title": "E (V) vs. Ag/AgCl", "values": [0.4, 0.6, 0.8, 1.0, 1.2], "tickCount": 20, "format": ".1f", "labelOverlap": false, "tickSize": 5, "labelPadding": 2, "labelFontSize": 12.5, "labelFontWeight": "bold", "titleFontSize": 16.5, "titlePadding": 5}},
            "y": {"field": "I", "type": "quantitative", "scale": {"domain": [0, 20], "nice": false, "zero": false},
                  "axis": {"title": "I (μA)", "values": [0, 4, 8, 12, 16, 20], "tickCount": 20, "labelOverlap": false, "tickSize": 5, "labelPadding": 2, "labelFontSize": 12.5, "labelFontWeight": "bold", "titleFontSize": 17, "titlePadding": 30}},
            "color": {"field": "s", "type": "nominal",
                      "scale": {"domain": ["Bare/GCE", "Cu-ZnO/GCE", "MWCNTs/GCE", "MWCNTs/Cu-ZnO/GCE"], "range": ["black", "red", "blue", "#ff00ff"]},
                      "legend": {"title": null, "orient": "none", "legendX": 2, "legendY": 1, "symbolType": "stroke", "symbolSize": 729, "symbolStrokeWidth": 2.5, "labelFontSize": 10, "labelOffset": 2, "clipHeight": 12.3}}
          }
        },
        {
          "data": {"values": [{}]},
          "mark": {"type": "text", "fontSize": 17, "fontWeight": "bold", "color": "black"},
          "encoding": {"x": {"datum": 0.786},
                       "y": {"datum": 18.4, "axis": {"orient": "right", "values": [20], "title": null, "domain": false, "ticks": false, "labelColor": "white", "labelPadding": 0, "labelFontSize": 12.5, "labelFontWeight": "bold"}},
                       "text": {"value": "(C)"}}
        }
      ],
      "resolve": {"axis": {"y": "independent"}}
    }
  ],
  "spacing": 3,
  "center": true,
  "resolve": {"scale": {"color": "independent"}, "legend": {"color": "independent"}}
}
